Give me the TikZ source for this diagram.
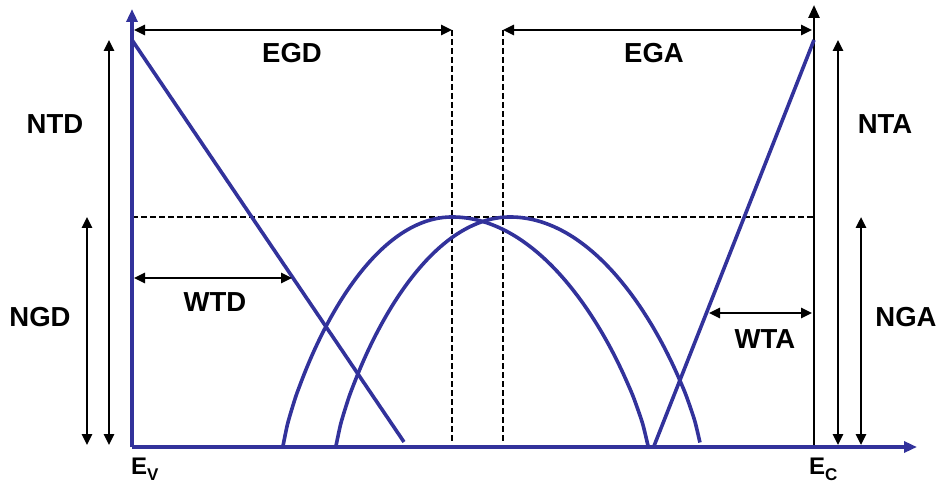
\documentclass[tikz,border=0pt]{standalone}
\usepackage{fontspec}
\setmainfont{Liberation Sans}
\usetikzlibrary{arrows.meta}
\definecolor{bl}{RGB}{50,50,155}
\begin{document}
\begin{tikzpicture}[x=1pt,y=-1pt,
  blueline/.style={draw=bl,line width=3.6pt},
  blueaxis/.style={draw=bl,line width=3.6pt,-{Triangle[length=13pt,width=11pt]}},
  blackaxis/.style={draw=black,line width=2.6pt,-{Triangle[length=13pt,width=11pt]}},
  dim/.style={draw=black,line width=2.5pt,{Triangle[length=11pt,width=10pt]}-{Triangle[length=11pt,width=10pt]}},
  dashline/.style={draw=black,line width=2.4pt,dash pattern=on 6pt off 3pt},
  lab/.style={font=\fontsize{27.5}{30}\selectfont\bfseries,inner sep=0pt},
  elab/.style={font=\fontsize{24}{26}\selectfont\bfseries,inner sep=0pt,anchor=base west}]
\useasboundingbox (0,0) rectangle (939,486);
% coordinates
\coordinate (O) at (132,447);
\coordinate (Ytop) at (132,9);
\coordinate (Xend) at (917,447);
\coordinate (Cb) at (814,447);
\coordinate (Ct) at (814,5);
\coordinate (L1a) at (132,40);
\coordinate (L1b) at (404,442);
\coordinate (L2a) at (654,446);
\coordinate (L2b) at (814,40);
\coordinate (D1t) at (452,30);
\coordinate (D1b) at (452,443);
\coordinate (D2t) at (503,30);
\coordinate (D2b) at (503,443);
\coordinate (H1) at (132,217);
\coordinate (H2) at (814,217);
\coordinate (EGDa) at (134,30);
\coordinate (EGDb) at (452,30);
\coordinate (EGAa) at (503,30);
\coordinate (EGAb) at (812,30);
\coordinate (NTDa) at (109,40);
\coordinate (NTDb) at (109,445);
\coordinate (NGDa) at (87,217);
\coordinate (NGDb) at (87,445);
\coordinate (NTAa) at (838,40);
\coordinate (NTAb) at (838,445);
\coordinate (NGAa) at (861,217);
\coordinate (NGAb) at (861,445);
\coordinate (WTDa) at (134,278);
\coordinate (WTDb) at (292,278);
\coordinate (WTAa) at (709,313);
\coordinate (WTAb) at (812,313);
% dashed guides
\draw[dashline] (H1) -- (H2);
\draw[dashline] (D1t) -- (D1b);
\draw[dashline] (D2t) -- (D2b);
% right axis
\draw[blackaxis] (Cb) -- (Ct);
% curves
\draw[blueline] plot[domain=-0.9999:0,samples=40,smooth] ({452+169*\x},{217+229*(1-(1-\x*\x)^0.8)})
  -- plot[domain=0:0.9999,samples=40,smooth] ({452+196*\x},{217+229*(1-(1-\x*\x)^0.8)});
\draw[blueline] plot[domain=-0.9999:0,samples=40,smooth] ({510+174*\x},{217+229*(1-(1-\x*\x)^0.8)})
  -- plot[domain=0:0.9999,samples=40,smooth] ({510+190*\x},{217+226*(1-(1-\x*\x)^0.8)});
\draw[blueline] (L1a) -- (L1b);
\draw[blueline] (L2a) -- (L2b);
% axes
\draw[blueaxis] (O) -- (Ytop);
\draw[blueaxis] (O) -- (Xend);
% dimension arrows
\draw[dim] (EGDa) -- (EGDb);
\draw[dim] (EGAa) -- (EGAb);
\draw[dim] (NTDa) -- (NTDb);
\draw[dim] (NGDa) -- (NGDb);
\draw[dim] (NTAa) -- (NTAb);
\draw[dim] (NGAa) -- (NGAb);
\draw[dim] (WTDa) -- (WTDb);
\draw[dim] (WTAa) -- (WTAb);
% labels
\node[lab] (egd) at (292,53) {EGD};
\node[lab] (ega) at (654,53) {EGA};
\node[lab] (ntd) at (55,124) {NTD};
\node[lab] (ngd) at (40,317) {NGD};
\node[lab] (wtd) at (215,302) {WTD};
\node[lab] (nta) at (885,124) {NTA};
\node[lab] (nga) at (906,317) {NGA};
\node[lab] (wta) at (765,339) {WTA};
\node[elab] (ev) at (131,474) {E\raisebox{-6pt}{\fontsize{17}{17}\selectfont V}};
\node[elab] (ec) at (809,474) {E\raisebox{-6pt}{\fontsize{17}{17}\selectfont C}};
\end{tikzpicture}
\end{document}
